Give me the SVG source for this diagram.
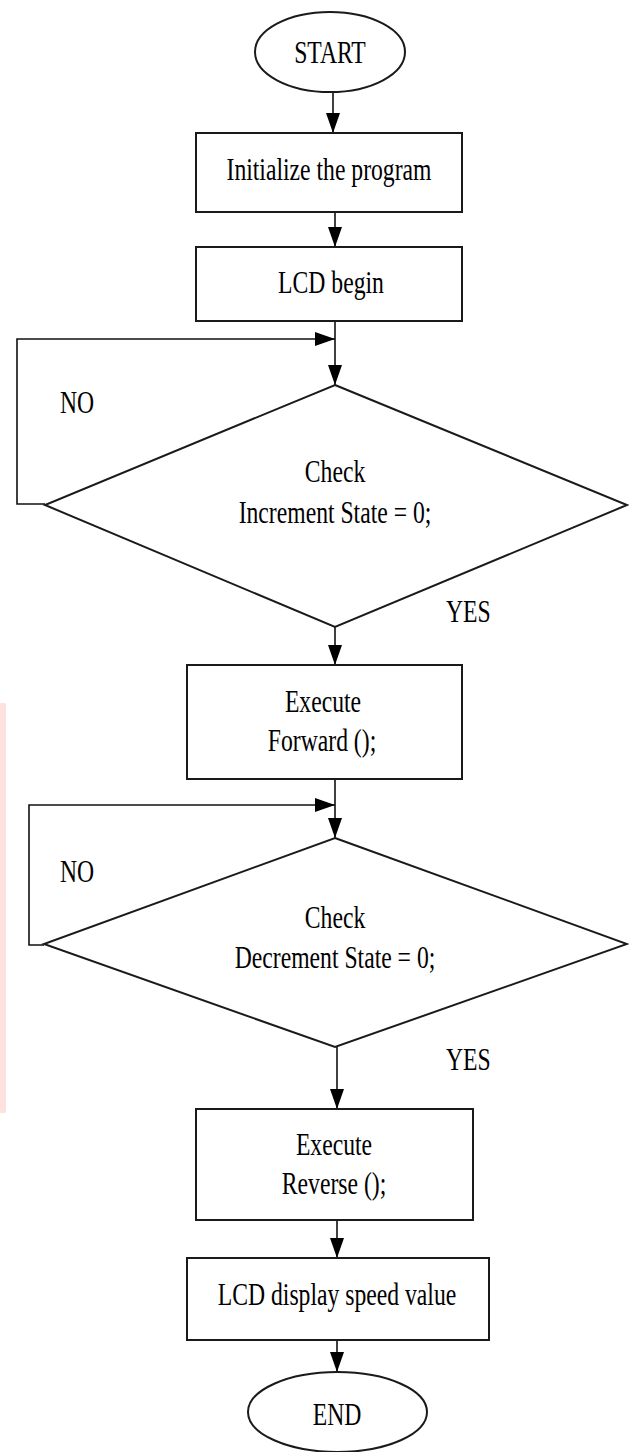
<svg xmlns="http://www.w3.org/2000/svg" width="629" height="1452" viewBox="0 0 629 1452">
<style>
.shape{fill:#fff;stroke:#1a1a1a;stroke-width:2}
.line{fill:none;stroke:#111;stroke-width:1.6}
.t{font-family:"Liberation Serif","Times New Roman",serif;font-size:32px;fill:#000;text-anchor:middle}
.ts{font-family:"Liberation Serif","Times New Roman",serif;font-size:32px;fill:#000;text-anchor:start}
</style>
<defs>
<marker id="arr" markerUnits="userSpaceOnUse" markerWidth="20" markerHeight="14" refX="20" refY="7" orient="auto">
<path d="M0,0 L20,7 L0,14 z" fill="#000"/>
</marker>
</defs>
<rect width="629" height="1452" fill="#fff"/>
<rect x="0" y="703" width="6" height="410" fill="#fde2de"/>
<g id="connectors">
<line class="line" x1="333" y1="92" x2="333" y2="133" marker-end="url(#arr)"/>
<line class="line" x1="335" y1="212" x2="335" y2="247" marker-end="url(#arr)"/>
<line class="line" x1="335" y1="321" x2="335" y2="385" marker-end="url(#arr)"/>
<path class="line" d="M45,504 L17,504 L17,339 L335,339" marker-end="url(#arr)"/>
<line class="line" x1="335" y1="627" x2="335" y2="665" marker-end="url(#arr)"/>
<line class="line" x1="335" y1="779" x2="335" y2="838" marker-end="url(#arr)"/>
<path class="line" d="M44,945 L29,945 L29,805 L335,805" marker-end="url(#arr)"/>
<line class="line" x1="337" y1="1047" x2="337" y2="1109" marker-end="url(#arr)"/>
<line class="line" x1="337" y1="1220" x2="337" y2="1258" marker-end="url(#arr)"/>
<line class="line" x1="337" y1="1340" x2="337" y2="1372" marker-end="url(#arr)"/>
</g>
<g id="start">
<ellipse class="shape" cx="330" cy="52" rx="75" ry="40"/>
<text class="t" transform="translate(330,63) scale(0.74,1)">START</text>
</g>
<g id="init">
<rect class="shape" x="196" y="133" width="266" height="79"/>
<text class="t" transform="translate(329,180) scale(0.74,1)">Initialize the program</text>
</g>
<g id="lcd-begin">
<rect class="shape" x="196" y="247" width="266" height="74"/>
<text class="t" transform="translate(331,293) scale(0.74,1)">LCD begin</text>
</g>
<g id="check-inc">
<polygon class="shape" points="335,385 627,505 335,627 45,505"/>
<text class="t" transform="translate(335,482) scale(0.74,1)">Check</text>
<text class="t" transform="translate(335,523) scale(0.74,1)">Increment State = 0;</text>
</g>
<g id="label-no1"><text class="ts" transform="translate(60,413) scale(0.74,1)">NO</text></g>
<g id="label-yes1"><text class="ts" transform="translate(446,622) scale(0.74,1)">YES</text></g>
<g id="forward">
<rect class="shape" x="187" y="665" width="275" height="114"/>
<text class="t" transform="translate(323,712) scale(0.74,1)">Execute</text>
<text class="t" transform="translate(322,751) scale(0.74,1)">Forward ();</text>
</g>
<g id="check-dec">
<polygon class="shape" points="335,838 627,944 335,1047 44,944"/>
<text class="t" transform="translate(335,928) scale(0.74,1)">Check</text>
<text class="t" transform="translate(335,968) scale(0.74,1)">Decrement State = 0;</text>
</g>
<g id="label-no2"><text class="ts" transform="translate(60,882) scale(0.74,1)">NO</text></g>
<g id="label-yes2"><text class="ts" transform="translate(446,1070) scale(0.74,1)">YES</text></g>
<g id="reverse">
<rect class="shape" x="196" y="1109" width="277" height="111"/>
<text class="t" transform="translate(334,1155) scale(0.74,1)">Execute</text>
<text class="t" transform="translate(334,1194) scale(0.74,1)">Reverse ();</text>
</g>
<g id="lcd-display">
<rect class="shape" x="187" y="1258" width="302" height="82"/>
<text class="t" transform="translate(337,1305) scale(0.74,1)">LCD display speed value</text>
</g>
<g id="end">
<ellipse class="shape" cx="337.5" cy="1412" rx="89.5" ry="40"/>
<text class="t" transform="translate(337,1425) scale(0.74,1)">END</text>
</g>
</svg>
